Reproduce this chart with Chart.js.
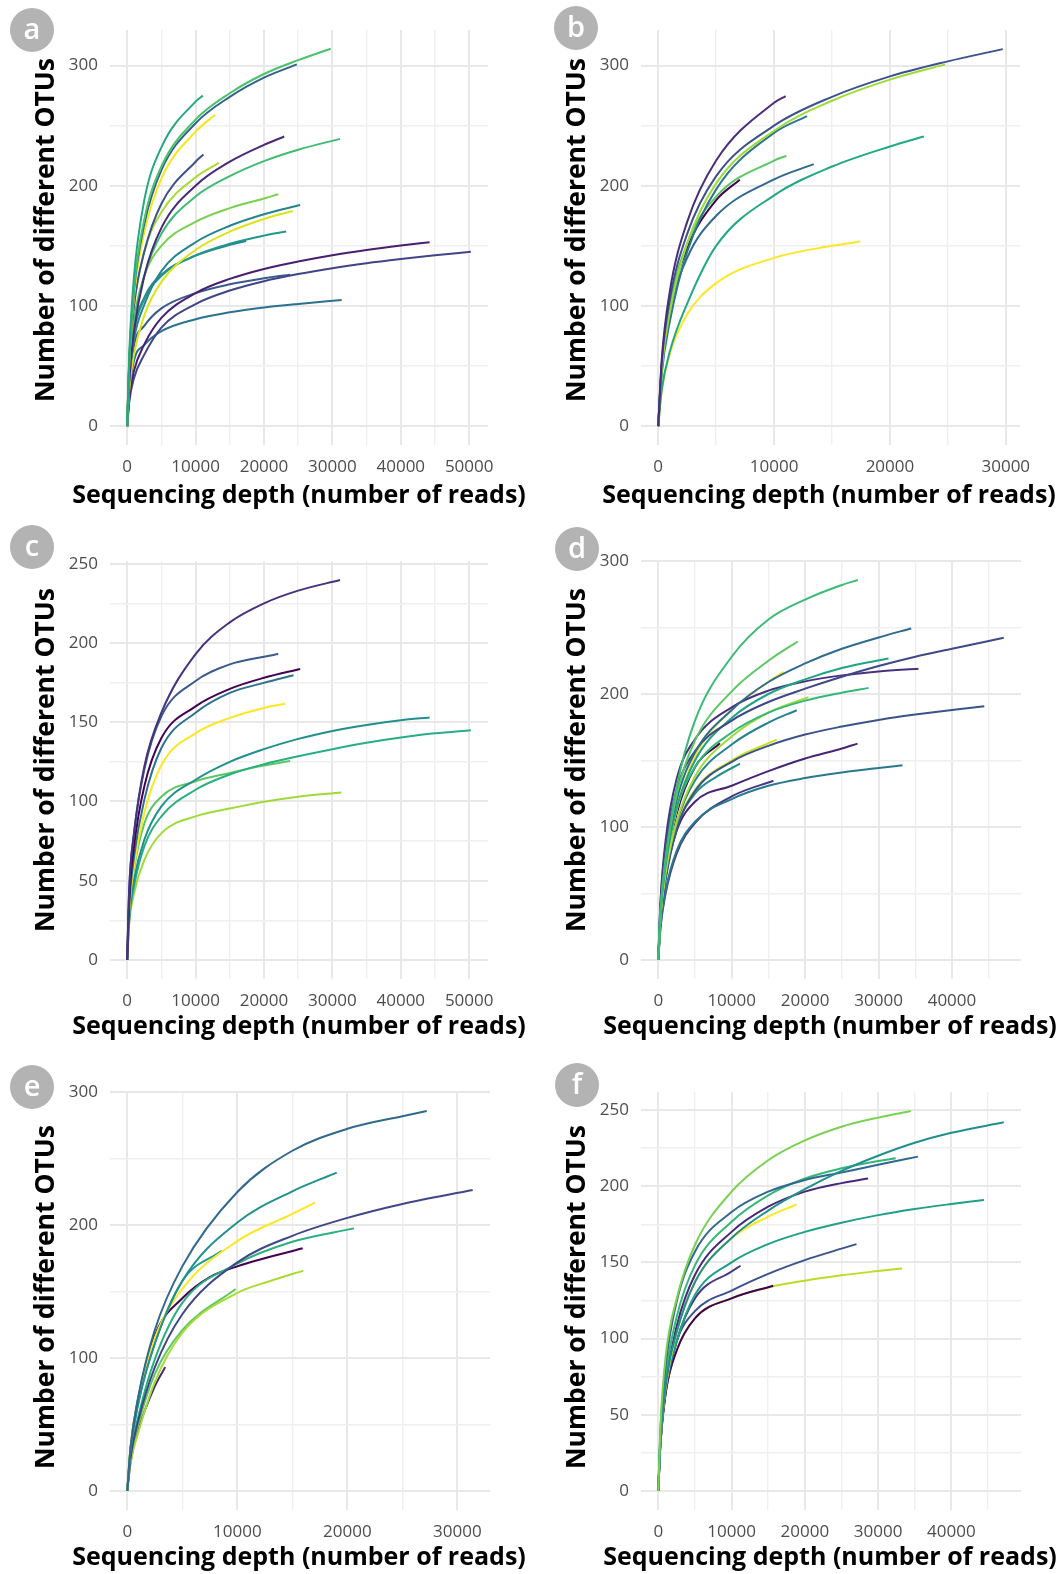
<!DOCTYPE html>
<html>
<head>
<meta charset="utf-8">
<script src="https://cdn.jsdelivr.net/npm/chart.js@4.4.1/dist/chart.umd.min.js"></script>
<style>
  body { margin: 0; background: #fff; width: 1063px; height: 1574px; position: relative; overflow: hidden; }
  canvas { position: absolute; }
  .badge { position: absolute; width: 44px; height: 44px; border-radius: 50%; background: #b3b3b3; color: #fff;
           font: 600 29px 'Open Sans', sans-serif; text-align: center; line-height: 40px; }
</style>
</head>
<body>
<canvas id="pa" width="530" height="525" style="left:0;top:0"></canvas>
<canvas id="pb" width="533" height="525" style="left:530px;top:0"></canvas>
<canvas id="pc" width="530" height="535" style="left:0;top:525px"></canvas>
<canvas id="pd" width="533" height="535" style="left:530px;top:525px"></canvas>
<canvas id="pe" width="530" height="514" style="left:0;top:1060px"></canvas>
<canvas id="pf" width="533" height="514" style="left:530px;top:1060px"></canvas>
<div class="badge" style="left:10px;top:8px">a</div>
<div class="badge" style="left:554px;top:6px">b</div>
<div class="badge" style="left:10px;top:525px">c</div>
<div class="badge" style="left:555px;top:527px">d</div>
<div class="badge" style="left:10px;top:1065px">e</div>
<div class="badge" style="left:555px;top:1063px">f</div>
<script>
// rarefaction curves: [depth, OTUs]
const curvesA = [
  [[0,0],[300,60],[1000,125],[2500,188],[5000,232],[10000,270],[11060,275]],
  [[0,0],[300,55],[1000,115],[2500,172],[5000,216],[10000,255],[15000,277],[20000,293],[25000,304.5],[29760,314]],
  [[0,0],[300,54],[1000,113],[2500,168],[5000,213],[10000,252],[15000,274],[20000,290],[24800,301]],
  [[0,0],[300,52],[1000,108],[2500,161],[5000,206],[10000,245],[12860,259]],
  [[0,0],[300,38],[1000,79],[2500,125],[5000,165],[10000,200],[15000,220],[20000,234],[22960,241]],
  [[0,0],[300,42],[1000,85],[2500,125],[5000,160],[10000,191],[15000,208],[20000,220.5],[25000,230],[31100,239]],
  [[0,0],[300,50],[1000,100],[2500,145],[5000,185],[10000,220],[11150,226]],
  [[0,0],[300,50],[1000,100],[2500,145],[5000,178],[10000,207],[13390,219]],
  [[0,0],[300,44],[1000,88],[2500,125],[5000,150],[10000,170],[15000,181.4],[20000,189.4],[22090,193]],
  [[0,0],[300,36],[1000,72],[2500,101],[5000,129],[10000,153],[15000,166.7],[20000,176.3],[25290,184]],
  [[0,0],[300,30],[1000,60],[2500,92],[5000,120],[10000,146.6],[15000,161.8],[20000,172.4],[24220,179]],
  [[0,0],[300,39],[1000,78],[2500,105.5],[5000,125],[10000,142],[15000,151.7],[20000,158.5],[23250,162]],
  [[0,0],[300,23],[1000,46],[2500,68],[5000,90],[10000,110.7],[15000,122.5],[20000,130.8],[25000,137],[30000,142.2],[35000,146.5],[40000,150.2],[44220,153]],
  [[0,0],[300,20],[1000,40],[2500,59.5],[5000,82],[10000,101.6],[15000,112.8],[20000,120.6],[25000,126.5],[30000,131.4],[35000,135.5],[40000,139],[45000,142.2],[50240,145]],
  [[0,0],[300,33],[1000,67],[2500,83.4],[5000,98],[10000,110.7],[15000,118],[20000,123],[23830,126]],
  [[0,0],[300,27],[1000,54.5],[2500,67.5],[5000,79],[10000,89],[15000,94.7],[20000,98.7],[25000,101.7],[31360,105]],
  [[0,0],[300,40],[1000,80],[2500,107],[5000,126],[10000,141.8],[15000,150.8],[17380,154]]
];
const coloursA = ['#23A883','#4CC26C','#33638D','#F5E61E','#472A7A','#3EBC73','#3B528B','#ABDC32','#7AD151',
  '#25858E','#DDE318','#1F9A8A','#481F70','#414487','#3A5A8C','#2C718E','#277F8E'];

const curvesB = [
  [[0,0],[300,55],[1000,112],[2500,170],[5000,221],[10000,269],[11000,274.6]],
  [[0,0],[300,52],[1000,105],[2500,160],[5000,208],[10000,250],[15000,274],[20000,291],[25000,303.5],[29740,313.7]],
  [[0,0],[300,47],[1000,95],[2500,152],[5000,202],[10000,245.8],[15000,270.7],[20000,288.3],[24770,301]],
  [[0,0],[300,43],[1000,87],[2500,145],[5000,197],[10000,244],[12840,258]],
  [[0,0],[300,50],[1000,100],[2500,152],[5000,191],[10000,221],[11060,225]],
  [[0,0],[300,48],[1000,98],[2500,148],[5000,188],[7040,205]],
  [[0,0],[300,47],[1000,95],[2500,140],[5000,175],[10000,205.3],[13420,218]],
  [[0,0],[300,30],[1000,62],[2500,102],[5000,150],[10000,192],[15000,216],[20000,232.7],[22930,241]],
  [[0,0],[300,29],[1000,60],[2500,93],[5000,119],[10000,140],[15000,150],[17440,153.6]]
];
const coloursB = ['#472D7B','#3B528B','#A0DA39','#2A788E','#5DC863','#440154','#31688E','#22A884','#FDE725'];

const curvesC = [
  [[0,0],[300,45],[1000,80],[2500,122],[5000,156],[10000,193],[15000,213],[20000,225],[25000,233],[31120,239.7]],
  [[0,0],[300,45],[1000,80],[2500,120],[5000,153.7],[10000,176],[15000,186.5],[20000,191.3],[22090,193]],
  [[0,0],[300,38],[1000,71.6],[2500,109.5],[5000,140],[10000,160],[15000,171],[20000,178],[25290,183.6]],
  [[0,0],[300,34],[1000,65],[2500,101],[5000,133.7],[10000,156],[15000,168.5],[20000,174.8],[24320,179.6]],
  [[0,0],[300,31],[1000,59],[2500,92.7],[5000,123],[10000,143],[15000,152.7],[20000,159],[23110,161.7]],
  [[0,0],[300,27],[1000,50.5],[2500,75.8],[5000,96.9],[10000,113.7],[15000,125],[20000,133],[25000,139.5],[30000,144.5],[35000,148.3],[40000,151.2],[44220,153]],
  [[0,0],[300,25],[1000,46.3],[2500,71.6],[5000,90.6],[10000,107.4],[15000,117],[20000,123.5],[25000,128.5],[30000,133],[35000,137],[40000,140.3],[45000,143],[50240,145]],
  [[0,0],[300,30],[1000,57],[2500,86],[5000,103],[10000,112.7],[15000,118],[20000,122.7],[23830,125.5]],
  [[0,0],[300,23],[1000,42],[2500,63],[5000,80],[10000,90.6],[15000,95.5],[20000,99.8],[25000,103],[31310,105.7]]
];
const coloursC = ['#46337E','#3B5A8C','#440154','#2C728E','#FDE725','#21908D','#29AF7F','#5DC863','#A0DA39'];

const curvesD = [
  [[0,0],[300,37],[1000,76],[2500,130],[5000,180],[10000,228],[15000,256],[20000,271],[25000,282],[27180,285.7]],
  [[0,0],[300,36],[1000,75],[2500,124],[5000,165],[10000,202],[15000,225],[19000,239.5]],
  [[0,0],[300,36],[1000,75],[2500,120],[5000,156],[10000,188],[15000,209],[20000,223],[25000,234],[30000,242.5],[34450,249.3]],
  [[0,0],[300,42],[1000,85],[2500,128],[5000,157],[10000,180],[15000,194],[20000,204],[25000,213],[30000,221],[35000,228],[40000,234],[47050,242.3]],
  [[0,0],[300,34],[1000,70],[2500,114],[5000,150],[10000,182],[15000,200],[20000,211],[25000,219.5],[31360,226.7]],
  [[0,0],[300,44],[1000,90],[2500,136],[5000,166],[10000,190],[15000,202.5],[20000,209.5],[25000,214],[30000,217],[35450,219]],
  [[0,0],[300,33],[1000,68],[2500,113],[5000,153],[10000,188],[15000,209],[17050,216.7]],
  [[0,0],[300,35],[1000,72],[2500,113],[5000,145],[10000,171],[15000,186],[20000,195],[25000,201],[28640,204.6]],
  [[0,0],[300,32],[1000,65],[2500,104],[5000,138],[10000,168],[15000,186],[20450,197.6]],
  [[0,0],[300,31],[1000,64],[2500,103],[5000,135],[10000,162],[15000,178.5],[18860,187.8]],
  [[0,0],[300,29],[1000,60],[2500,98],[5000,127],[10000,149],[15000,161],[20000,169.5],[25000,175.5],[30000,180.5],[35000,184.5],[40000,188],[44400,190.8]],
  [[0,0],[300,31],[1000,64],[2500,100],[5000,128],[10000,150],[16140,165.7]],
  [[0,0],[300,30],[1000,62],[2500,97],[5000,119],[10000,131],[15000,142],[20000,151.5],[25000,159],[27140,162.7]],
  [[0,0],[300,32],[1000,65],[2500,100],[5000,125],[8000,138],[11140,147.6]],
  [[0,0],[300,25],[1000,52],[2500,82],[5000,104],[10000,121],[15000,131],[20000,136.8],[25000,141],[30000,144.3],[33270,146.4]],
  [[0,0],[300,24],[1000,50],[2500,80],[5000,103],[10000,123],[15680,134.8]],
  [[0,0],[300,33],[1000,68],[2500,110],[5000,145],[8400,163]]
];
const coloursD = ['#3BBB75','#5DC863','#2F6B8E','#3F4889','#20A386','#46327E','#FDE725','#35B779','#A0DA39',
  '#26828E','#3B528B','#C8E020','#482475','#21918C','#2A788E','#443A83','#440154'];

const curvesE = [
  [[0,0],[300,33],[1000,71],[2500,121],[5000,169],[10000,225],[15000,256],[20000,272.5],[25000,282],[27210,285.9]],
  [[0,0],[300,31],[1000,66],[2500,111],[5000,158],[10000,202],[15000,225.5],[19030,239.5]],
  [[0,0],[300,33],[1000,70],[2500,115],[5000,152],[10000,188],[15000,208.5],[17060,217]],
  [[0,0],[300,25],[1000,53],[2500,93],[5000,133],[10000,172],[15000,192],[20000,205.5],[25000,216],[31390,226.5]],
  [[0,0],[300,27],[1000,56],[2500,99],[5000,141.5],[10000,171],[15000,187.5],[20600,197.6]],
  [[0,0],[300,31],[1000,66],[2500,111],[5000,158],[8580,180.8]],
  [[0,0],[300,33],[1000,70],[2500,117],[5000,145],[7500,161],[10000,169],[15940,182.6]],
  [[0,0],[300,21],[1000,44],[2500,82],[5000,119],[10000,149],[13000,158],[16000,165.8]],
  [[0,0],[300,24],[1000,50],[2500,88],[5000,121],[9850,152]],
  [[0,0],[300,22],[1000,46],[2500,78.7],[3450,93.2]]
];
const coloursE = ['#31688E','#21918C','#FDE725','#404688','#2AB07F','#1F9E89','#440154','#A8DB34','#5DC863','#482475'];

const curvesF = [
  [[0,0],[300,43],[1000,88],[2500,126],[5000,161.4],[10000,196.4],[15000,217],[20000,230],[25000,239],[30000,245],[34450,249.3]],
  [[0,0],[300,34],[1000,70],[2500,104],[5000,137],[10000,166],[15000,184],[20000,198],[25000,210],[30000,220],[35000,228.5],[40000,235],[47140,241.9]],
  [[0,0],[300,40],[1000,82],[2500,124],[5000,157],[10000,183],[15000,196.4],[20000,204],[25000,209],[30000,214],[35450,219.4]],
  [[0,0],[300,36],[1000,75],[2500,114],[5000,148],[10000,176.7],[15000,194],[20000,205],[25000,211.7],[30000,216.5],[32400,218.3]],
  [[0,0],[300,34],[1000,70],[2500,108],[5000,141.7],[10000,170],[15000,186.5],[20000,196.4],[25000,202],[28640,205]],
  [[0,0],[300,33],[1000,68],[2500,104],[5000,137],[10000,165.8],[15000,180],[18860,188]],
  [[0,0],[300,33],[1000,68],[2500,98],[5000,128.6],[10000,150],[15000,162],[20000,170],[25000,176],[30000,181],[35000,185],[40000,188.3],[44450,191]],
  [[0,0],[300,32],[1000,66],[2500,98],[5000,118],[10000,131.5],[15000,142.5],[20000,151.5],[25000,159],[27050,162]],
  [[0,0],[300,31],[1000,64],[2500,98],[5000,126.4],[10000,144],[11230,147.8]],
  [[0,0],[300,31],[1000,64],[2500,92],[5000,113.3],[10000,126.4],[15680,134.7]],
  [[0,0],[300,31],[1000,64],[2500,92],[5000,113.3],[10000,126.5],[15000,133.5],[20000,138],[25000,141.5],[30000,144.3],[33270,146]]
];
const coloursF = ['#7AD151','#21908D','#31688E','#35B779','#482878','#FDE725','#1FA088','#3B528B','#443A83','#440154','#BADE28'];

// axis ticks (labelled) and the minor grid lines between them
const xTicks50k = [0,10000,20000,30000,40000,50000];
const xMinor50k = [5000,15000,25000,35000,45000];
const xTicks30k = [0,10000,20000,30000];
const xMinor30k = [5000,15000,25000];
const xTicks40k = [0,10000,20000,30000,40000];
const xMinor40k = [5000,15000,25000,35000,45000];
const yTicks300 = [0,100,200,300];
const yMinor300 = [50,150,250];
const yTicks250 = [0,50,100,150,200,250];
const yMinor250 = [25,75,125,175,225];

const xTitle = 'Sequencing depth (number of reads)';
const yTitle = 'Number of different OTUs';

// the axis titles are wider than the plot, so draw them directly instead of letting Chart.js squeeze them
const axisTitles = {
  id: 'axisTitles',
  afterDraw(chart, args, opts) {
    const ctx = chart.ctx;
    ctx.save();
    ctx.fillStyle = '#000';
    ctx.textAlign = 'center';
    ctx.textBaseline = 'middle';
    ctx.font = 'bold 25px "Open Sans"';
    ctx.fillText(xTitle, opts.x[0], opts.x[1]);
    ctx.translate(opts.y[0], opts.y[1]);
    ctx.rotate(-Math.PI / 2);
    ctx.font = 'bold 26.5px "Open Sans"';
    ctx.fillText(yTitle, 0, 0);
    ctx.restore();
  }
};

function panel(id, o) {
  const gridX = o.xTicks.concat(o.xMinor).sort((a, b) => a - b);
  const gridY = o.yTicks.concat(o.yMinor).sort((a, b) => a - b);
  const tickFont = { family: 'Open Sans', size: 17 };
  new Chart(document.getElementById(id), {
    type: 'line',
    data: {
      datasets: o.curves.map((c, i) => ({
        data: c.map(p => ({ x: p[0], y: p[1] })),
        borderColor: o.colours[i],
        borderWidth: 2,
        pointRadius: 0,
        fill: false,
        cubicInterpolationMode: 'monotone'
      }))
    },
    plugins: [axisTitles],
    options: {
      responsive: false,
      animation: false,
      events: [],
      layout: { padding: { top: o.padTop, right: o.padRight, left: 0, bottom: 0 } },
      plugins: {
        legend: { display: false },
        tooltip: { enabled: false },
        axisTitles: { x: o.xTitleAt, y: o.yTitleAt }
      },
      scales: {
        x: {
          type: 'linear', min: o.xMin, max: o.xMax,
          border: { display: false },
          grid: {
            drawTicks: false,
            color: c => o.xTicks.includes(c.tick.value) ? '#e8e8e8' : '#efefef',
            lineWidth: c => o.xTicks.includes(c.tick.value) ? 2 : 1.4
          },
          afterBuildTicks: s => { s.ticks = gridX.map(v => ({ value: v })); },
          afterFit: s => { s.height = o.xHeight; },
          ticks: {
            autoSkip: false, maxRotation: 0, padding: 12, color: '#4d4d4d', font: tickFont,
            callback: v => o.xTicks.includes(v) ? String(v) : ''
          }
        },
        y: {
          type: 'linear', min: o.yMin, max: o.yMax,
          border: { display: false },
          grid: {
            drawTicks: false,
            color: c => o.yTicks.includes(c.tick.value) ? '#e8e8e8' : '#efefef',
            lineWidth: c => o.yTicks.includes(c.tick.value) ? 2 : 1.4
          },
          afterBuildTicks: s => { s.ticks = gridY.map(v => ({ value: v })); },
          afterFit: s => { s.width = o.yWidth; },
          ticks: {
            autoSkip: false, padding: 12, color: '#4d4d4d', font: tickFont,
            callback: v => o.yTicks.includes(v) ? String(v) : ''
          }
        }
      }
    }
  });
}

panel('pa', { curves: curvesA, colours: coloursA, xTicks: xTicks50k, xMinor: xMinor50k, yTicks: yTicks300, yMinor: yMinor300,
  xMin: -2512, xMax: 52752, yMin: -15.7, yMax: 329.6,
  padTop: 30, padRight: 42, yWidth: 110, xHeight: 80, xTitleAt: [299, 496], yTitleAt: [46, 230] });
panel('pb', { curves: curvesB, colours: coloursB, xTicks: xTicks30k, xMinor: xMinor30k, yTicks: yTicks300, yMinor: yMinor300,
  xMin: -1487, xMax: 31227, yMin: -15.7, yMax: 329.6,
  padTop: 30, padRight: 43, yWidth: 111, xHeight: 80, xTitleAt: [299, 496], yTitleAt: [47, 230] });
panel('pc', { curves: curvesC, colours: coloursC, xTicks: xTicks50k, xMinor: xMinor50k, yTicks: yTicks250, yMinor: yMinor250,
  xMin: -2512, xMax: 52752, yMin: -12, yMax: 251.7,
  padTop: 36, padRight: 42, yWidth: 110, xHeight: 81, xTitleAt: [299, 502], yTitleAt: [46, 235] });
panel('pd', { curves: curvesD, colours: coloursD, xTicks: xTicks40k, xMinor: xMinor40k, yTicks: yTicks300, yMinor: yMinor300,
  xMin: -2352, xMax: 49400, yMin: -14.3, yMax: 300,
  padTop: 36, padRight: 42, yWidth: 111, xHeight: 81, xTitleAt: [300, 502], yTitleAt: [47, 235] });
panel('pe', { curves: curvesE, colours: coloursE, xTicks: xTicks30k, xMinor: xMinor30k, yTicks: yTicks300, yMinor: yMinor300,
  xMin: -1570, xMax: 32960, yMin: -14.3, yMax: 300.2,
  padTop: 32, padRight: 40, yWidth: 110, xHeight: 64, xTitleAt: [299, 498], yTitleAt: [46, 237] });
panel('pf', { curves: curvesF, colours: coloursF, xTicks: xTicks40k, xMinor: xMinor40k, yTicks: yTicks250, yMinor: yMinor250,
  xMin: -2357, xMax: 49497, yMin: -12.5, yMax: 261.8,
  padTop: 32, padRight: 42, yWidth: 111, xHeight: 64, xTitleAt: [300, 498], yTitleAt: [47, 237] });
</script>
</body>
</html>
